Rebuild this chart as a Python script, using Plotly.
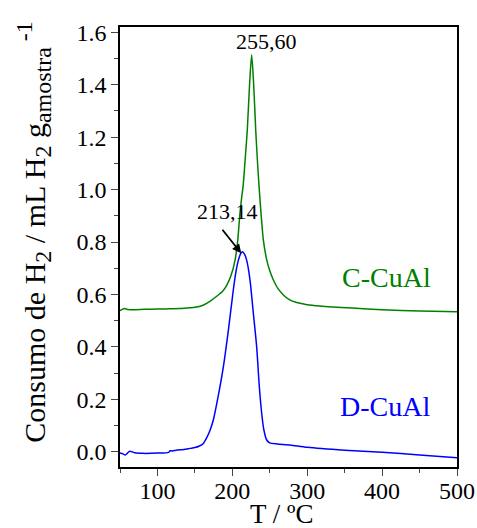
import plotly.graph_objects as go

# C-CuAl (green)
c_x = [50, 53, 56, 60, 70, 90, 110, 130, 143.5, 150, 160, 170, 180, 187, 192.5, 198, 203.6,
       207, 210.2, 212.5, 214.6, 217, 220, 223, 225.8, 228.5, 231.2, 233.5, 235.5, 238.3,
       241.4, 245.9, 250, 254.8, 261, 268.2, 276, 286, 300, 317, 360, 400, 450, 500]
c_y = [0.538, 0.543, 0.546, 0.543, 0.542, 0.544, 0.545, 0.546, 0.549, 0.551, 0.558, 0.574,
       0.595, 0.612, 0.635, 0.67, 0.73, 0.80, 0.91, 0.97, 1.02, 1.11, 1.228, 1.40, 1.514,
       1.40, 1.228, 1.11, 1.02, 0.91, 0.808, 0.732, 0.69, 0.655, 0.622, 0.598, 0.58, 0.569,
       0.561, 0.556, 0.548, 0.542, 0.537, 0.534]

# D-CuAl (blue)
d_x = [50, 54, 57, 60, 63, 66, 70, 80, 100, 115, 117, 120, 125, 135, 143.5, 150, 156, 161.2,
       166, 170, 174.6, 181, 188, 195, 201.3, 205, 208, 211, 213.3, 216, 219.2, 223.6, 228,
       232.5, 236, 239.2, 242, 245.9, 250, 260, 277, 300, 350, 400, 450, 500]
d_y = [-0.005, -0.008, -0.012, -0.005, 0.002, 0.0, -0.004, -0.006, -0.005, -0.002, 0.004,
       0.003, 0.006, 0.009, 0.013, 0.016, 0.022, 0.032, 0.055, 0.08, 0.121, 0.21, 0.324,
       0.47, 0.617, 0.69, 0.73, 0.755, 0.763, 0.755, 0.73, 0.655, 0.53, 0.40, 0.25, 0.147,
       0.085, 0.045, 0.034, 0.030, 0.026, 0.017, 0.006, -0.002, -0.012, -0.023]

x_ticks = [100, 200, 300, 400, 500]
y_ticks = [0.0, 0.2, 0.4, 0.6, 0.8, 1.0, 1.2, 1.4, 1.6]

FONT = "Liberation Serif"

fig = go.Figure()
fig.add_trace(go.Scatter(x=c_x, y=c_y, mode="lines",
                         line=dict(color="#008000", width=1.5, shape="spline", smoothing=0.7),
                         showlegend=False))
fig.add_trace(go.Scatter(x=d_x, y=d_y, mode="lines",
                         line=dict(color="#0000ff", width=1.5, shape="spline", smoothing=0.7),
                         showlegend=False))

fig.add_annotation(x=245.9, y=1.564, text="255,60", showarrow=False,
                   font=dict(family=FONT, size=22, color="black"))
fig.add_annotation(x=192.9, y=0.916, text="213,14", showarrow=False,
                   font=dict(family=FONT, size=22, color="black"))
fig.add_annotation(x=211.9, y=0.757, ax=-20, ay=-25, text="", showarrow=True,
                   arrowhead=2, arrowsize=1, arrowwidth=1.8, arrowcolor="black")
fig.add_annotation(x=406, y=0.663, text="C-CuAl", showarrow=False,
                   font=dict(family=FONT, size=28, color="#008000"))
fig.add_annotation(x=404, y=0.172, text="D-CuAl", showarrow=False,
                   font=dict(family=FONT, size=28, color="#0000ff"))

# axis titles
fig.add_annotation(xref="x", yref="paper", x=265, y=-0.107, text="T / ºC",
                   showarrow=False, xanchor="center", yanchor="middle", borderpad=0,
                   font=dict(family=FONT, size=27, color="black"))
S = '<span style="font-size:24px">'
ytitle = ("Consumo de H<sub>" + S + "2</span></sub> / mL H<sub>" + S + "2</span></sub> g<sub>"
          + S + "amostra</span></sub><sup>" + S + " -1</span></sup>")
fig.add_annotation(xref="paper", yref="paper", x=-0.255, y=0.535, text=ytitle,
                   textangle=-90, showarrow=False, xanchor="center", yanchor="middle",
                   font=dict(family=FONT, size=30, color="black"))

fig.update_layout(
    width=477, height=528,
    margin=dict(l=120, r=20, t=27, b=61),
    paper_bgcolor="white", plot_bgcolor="white",
    font=dict(family=FONT, size=24, color="black"),
)
fig.update_xaxes(
    range=[50, 500], tickvals=x_ticks, ticks="outside", ticklen=7, tickwidth=1.2,
    showline=True, linecolor="black", linewidth=1.5, mirror=True, showgrid=False,
    zeroline=False, automargin=False, ticklabelstandoff=-6,
    minor=dict(tickvals=[50, 150, 250, 350, 450], ticks="outside", ticklen=4, tickwidth=1.2),
    tickfont=dict(size=24),
)
fig.update_yaxes(
    range=[-0.058, 1.62], tickvals=y_ticks, tickformat=".1f", ticks="outside", ticklen=7,
    tickwidth=1.2, showline=True, linecolor="black", linewidth=1.5, mirror=True,
    showgrid=False, zeroline=False, automargin=False,
    minor=dict(tickvals=[0.1, 0.3, 0.5, 0.7, 0.9, 1.1, 1.3, 1.5], ticks="outside",
               ticklen=4, tickwidth=1.2),
    tickfont=dict(size=24),
)

fig.write_html("out.html")
